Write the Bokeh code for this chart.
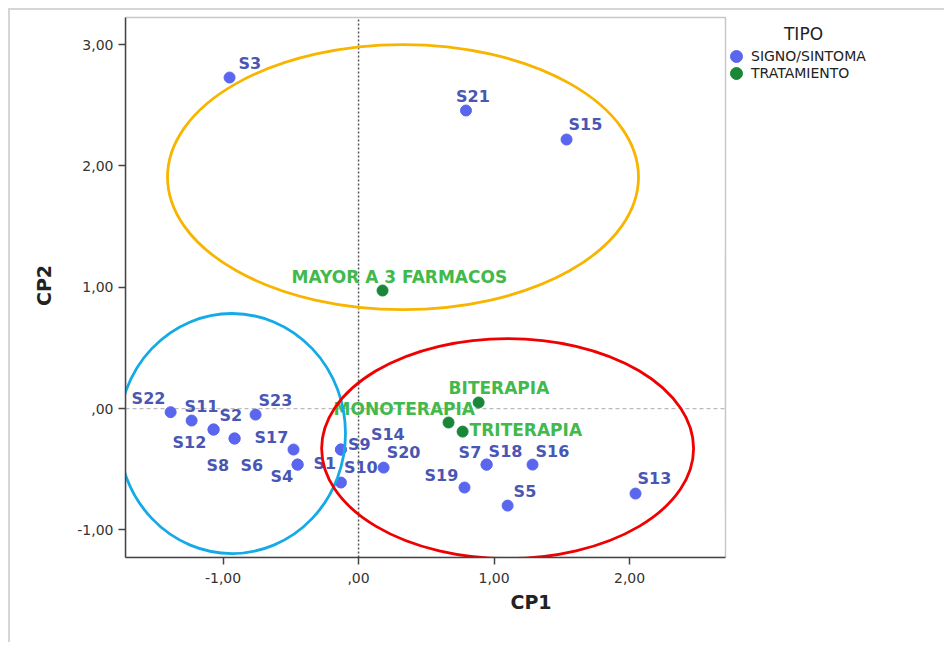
from bokeh.plotting import figure
from bokeh.models import (ColumnDataSource, Range1d, FixedTicker, Legend,
                          LegendItem, Label, BoxAnnotation)
from bokeh.core.properties import value
from bokeh.embed import file_html
from bokeh.resources import INLINE

# ---------------- data ----------------
sign_names = ["S22", "S11", "S2", "S12", "S23", "S17", "S8", "S6", "S4", "S1",
              "S9", "S10", "S14", "S20", "S7", "S18", "S16", "S19", "S5", "S13",
              "S3", "S21", "S15"]
sign_cp1 = [-1.387, -1.232, -1.070, -1.070, -0.760, -0.480, -0.915, -0.915, -0.450, -0.450,
            -0.130, -0.130, -0.130, 0.185, 0.945, 0.945, 1.284, 0.782, 1.100, 2.044,
            -0.952, 0.793, 1.535]
sign_cp2 = [-0.030, -0.099, -0.173, -0.173, -0.050, -0.338, -0.247, -0.247, -0.462, -0.462,
            -0.338, -0.610, -0.338, -0.487, -0.462, -0.462, -0.462, -0.651, -0.800, -0.701,
            2.729, 2.457, 2.218]

treat_names = ["MAYOR A 3 FARMACOS", "BITERAPIA", "MONOTERAPIA", "TRITERAPIA"]
treat_cp1 = [0.177, 0.886, 0.664, 0.768]
treat_cp2 = [0.973, 0.050, -0.115, -0.190]

group_cx = [0.328, -0.934, 1.100]
group_cy = [1.908, -0.206, -0.330]
group_w = [3.476, 1.675, 2.745]
group_h = [2.185, 1.979, 1.814]
group_colors = ["#F8B500", "#14AAE6", "#F00000"]

x_ticks = [-1, 0, 1, 2]
x_tick_labels = ["-1,00", ",00", "1,00", "2,00"]
y_ticks = [-1, 0, 1, 2, 3]
y_tick_labels = ["-1,00", ",00", "1,00", "2,00", "3,00"]

legend_title = "TIPO"
legend_labels = ["SIGNO/SINTOMA", "TRATAMIENTO"]

# axis extents of the plotting box
X_MIN, X_MAX = -1.72, 2.708
Y_MIN, Y_MAX = -1.228, 3.223

# label placement (screen px offsets relative to point)
sign_dx = [-39, -7, 6, -41, 3, -39, -28, 6, -27, 16,
           7, 3, 30, 3, -28, 2, 3, -40, 6, 2,
           9, -10, 2]
sign_dy = [-14, -14, -14.5, 13, -14.5, -12, 27, 27, 12, -1.5,
           -5, -15, -15, -15, -12, -13, -13, -12, -14, -15,
           -14, -14, -15]
treat_dx = [-91, -30, -115, 7]
treat_dy = [-14, -14, -13, -2]

BLUE_PT = "#5A66EE"
BLUE_TXT = "#4A56B4"
GREEN_PT = "#198737"
GREEN_TXT = "#41B94B"
FONT = "DejaVu Sans"
FRAME = "#444444"

PX_X = 135.5   # px per unit in x
PX_Y = 121.3   # px per unit in y
W, H = 936, 634
BL, BR, BT, BB = 115, 10, 3, 87
x_end = X_MIN + (W - BL - BR) / PX_X
y_end = Y_MIN + (H - BT - BB) / PX_Y

p = figure(width=W, height=H, output_backend="svg", toolbar_location=None,
           x_range=Range1d(X_MIN, x_end), y_range=Range1d(Y_MIN, y_end),
           min_border_left=BL, min_border_right=BR, min_border_top=BT,
           min_border_bottom=BB)
p.margin = (8, 0, 0, 8)
p.xgrid.visible = False
p.ygrid.visible = False
p.outline_line_color = None
p.background_fill_color = "white"
p.border_fill_color = "white"
p.styles = {"border-left": "2px solid #d6d6d6", "border-top": "2px solid #d6d6d6"}

for ax, ticks, labels, name, bnds in (
        (p.xaxis[0], x_ticks, x_tick_labels, "CP1", (X_MIN, X_MAX)),
        (p.yaxis[0], y_ticks, y_tick_labels, "CP2", (Y_MIN, Y_MAX))):
    ax.bounds = bnds
    ax.ticker = FixedTicker(ticks=ticks)
    ax.major_label_overrides = {t: l for t, l in zip(ticks, labels)}
    ax.minor_tick_line_color = None
    ax.major_tick_in = 0
    ax.major_tick_out = 7
    ax.major_tick_line_color = FRAME
    ax.major_tick_line_width = 1.5
    ax.axis_line_color = FRAME
    ax.axis_line_width = 1.5
    ax.major_label_text_font = FONT
    ax.major_label_text_font_size = "14px"
    ax.major_label_text_color = "#333333"
    ax.axis_label = name
    ax.axis_label_text_font = FONT
    ax.axis_label_text_font_style = "bold"
    ax.axis_label_text_font_size = "19px"
    ax.axis_label_text_color = "#222222"
p.xaxis[0].major_label_standoff = 8
p.xaxis[0].axis_label_standoff = 5
p.yaxis[0].major_label_standoff = 5
p.yaxis[0].axis_label_standoff = 19

# plotting box
p.add_layout(BoxAnnotation(left=X_MIN, right=X_MAX, bottom=Y_MIN, top=Y_MAX,
                           fill_alpha=0, line_color=FRAME, line_width=1.5,
                           level="underlay"))
# reference lines at zero
p.segment(x0=[X_MIN], x1=[X_MAX], y0=[0], y1=[0], line_color="#bbbbbb",
          line_dash="4 3", line_width=1.2)
p.segment(x0=[0], x1=[0], y0=[Y_MIN], y1=[Y_MAX], line_color="#555555",
          line_dash="2 2", line_width=1.5)

s_src = ColumnDataSource(dict(x=sign_cp1, y=sign_cp2, name=sign_names,
                              dx=sign_dx, dy=sign_dy))
t_src = ColumnDataSource(dict(x=treat_cp1, y=treat_cp2, name=treat_names,
                              dx=treat_dx, dy=treat_dy))

r_sign = p.scatter("x", "y", source=s_src, size=11, fill_color=BLUE_PT, line_color=BLUE_PT)
r_treat = p.scatter("x", "y", source=t_src, size=11, fill_color=GREEN_PT, line_color=GREEN_PT)

p.text("x", "y", text="name", source=s_src, x_offset="dx", y_offset="dy",
       text_font=value(FONT), text_font_size="16px",
       text_font_style="bold", text_color=BLUE_TXT, text_align="left",
       text_baseline="middle")
p.text("x", "y", text="name", source=t_src, x_offset="dx", y_offset="dy",
       text_font=value(FONT), text_font_size="17px", text_font_style="bold",
       text_color=GREEN_TXT, text_align="left", text_baseline="middle")

p.ellipse(x=group_cx, y=group_cy, width=group_w, height=group_h,
          fill_color=None, line_color=group_colors, line_width=2.8)

# legend: one Legend per item so the rows can sit closer than the marker box
# (legend marker size = 0.4 * glyph box)
for label, rend, loc_y in ((legend_labels[0], r_sign, 486),
                           (legend_labels[1], r_treat, 469)):
    p.add_layout(Legend(items=[LegendItem(label=label, renderers=[rend])],
                        location=(596, loc_y), padding=0, margin=0, spacing=0,
                        glyph_width=30, glyph_height=30, label_height=16,
                        label_standoff=0, label_text_font=FONT,
                        label_text_font_size="14px", label_text_color="#222222",
                        border_line_color=None, background_fill_alpha=0))
p.add_layout(Label(x=X_MAX + 78 / PX_X, y=Y_MAX - 16 / PX_Y, text=legend_title,
                   text_font=FONT, text_font_size="17px", text_color="#222222",
                   text_align="center", text_baseline="middle"))

open("out.html", "w").write(file_html(p, INLINE))
